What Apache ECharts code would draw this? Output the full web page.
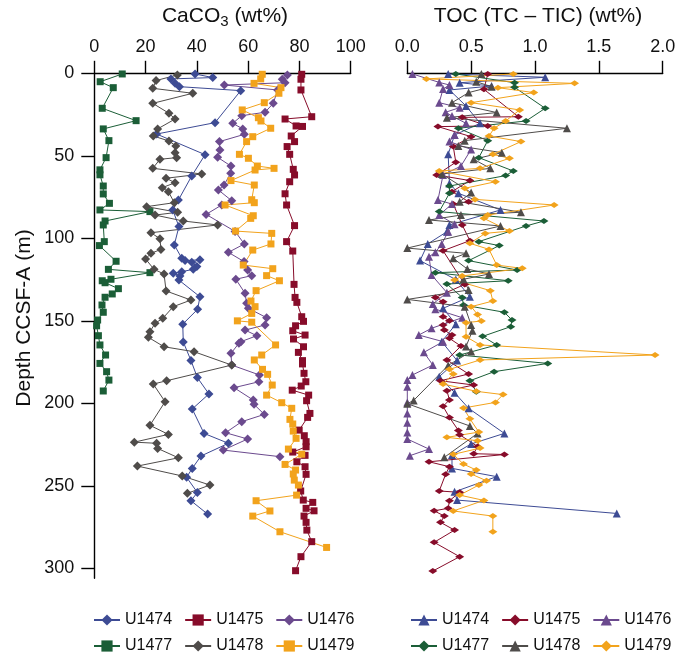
<!DOCTYPE html>
<html><head><meta charset="utf-8">
<script src="https://cdn.jsdelivr.net/npm/echarts@6/dist/echarts.min.js"></script>
<style>html,body{margin:0;padding:0;background:#fff}#c{width:692px;height:655px}</style>
</head><body><div id="c"></div>
<script>
// ---------- DATA: [value, depth (m)] ----------
const sites = ['U1474','U1475','U1476','U1477','U1478','U1479'];
const caTicks = [0,20,40,60,80,100];
const tocTicks = [0,0.5,1.0,1.5,2.0];
const depthTicks = [0,50,100,150,200,250,300];

const ca_U1474 = [[39.3,0.4],[46.2,2.6],[29.9,3.4],[31.5,6.1],[33.2,8.1],[57.1,10.5],[47.1,29.9],[24.3,36.8],[43.2,49.3],[38.0,62.2],[32.8,76.8],[30.6,82.8],[33.0,92.9],[31.2,104],[34.1,112],[35.4,113.5],[41.2,113],[38,114.5],[40,117],[38.6,118.8],[34.1,120.2],[30.8,121.2],[33.4,122.8],[33,125.3],[41.2,135.4],[40.3,143],[34.5,152],[34.7,162.8],[37.7,174],[40.2,184.4],[44.7,194.3],[38.2,203.4],[42.8,218.2],[52.3,224.2],[41.6,231.9],[38.2,239.4],[36.0,244.8],[40.2,254],[37.7,259],[44.2,267.1]];
const ca_U1475 = [[80.9,0.6],[80.6,3.6],[80.6,10.1],[84.8,26.3],[74.4,27.7],[78.7,31.9],[81.2,32.2],[76.8,38],[78.1,41.4],[75.2,44.4],[76.2,49.1],[77.6,58.2],[78.1,61.6],[76.2,65.7],[74.4,73],[75,79.8],[78.1,92.3],[75,102],[77.4,107.7],[77.9,127.9],[78.3,135.8],[79,138.8],[80.9,147.5],[81.6,150.3],[78.5,153],[77.4,156],[82.2,158.6],[77.7,161],[81.6,165.7],[79.6,169.1],[81.2,174.1],[81.2,176.1],[81.8,181.8],[82.5,186.9],[80.7,189.5],[77.2,192],[83.6,195],[82.8,198.4],[84.1,206.1],[83.2,208.5],[79.9,216.2],[81.9,219.6],[82.6,223.2],[82.6,226.3],[77.4,229.5],[82.2,231.5],[79,235.4],[82.2,238.4],[82.6,243],[80.5,253.1],[81.5,258.6],[85.2,260],[82.6,263.6],[85.7,265.1],[81.8,268.3],[82.6,272.1],[82.9,276.8],[84.8,283.8],[80.6,292.9],[78.5,301.4]];
const ca_U1476 = [[75.3,1],[73.3,3.6],[74.4,5.7],[50.7,7.1],[71.5,10.1],[69.8,18.2],[66.6,23.6],[57.5,25.7],[54,30.3],[57.9,33.7],[58.5,37],[48.8,41.4],[49,46.5],[48.1,50.9],[53.3,56.2],[53.2,60.6],[50.6,67.7],[48.4,70.7],[53.6,77.2],[49.7,79.8],[43.6,85.5],[54.9,95.8],[58.5,103.4],[52.3,108.5],[58.4,114.1],[59.8,119.2],[61.4,122.6],[55.2,124.8],[58.8,133.3],[59.4,139.4],[60.1,142.4],[67.2,148.1],[66.6,152.5],[58.8,155.6],[63.4,159],[57.2,162.6],[56.4,163.6],[53.3,169.7],[53.6,176.8],[64.4,182.8],[64.2,186.9],[54.5,190.5],[62,198],[62.3,200.6],[66.3,206.7],[57.5,211.1],[51.2,217.8],[59.8,221.6],[50.3,228.3],[72.4,232.3]];
const ca_U1477 = [[10.9,0.4],[2.3,5.1],[7.4,8.7],[3.1,21.2],[16.3,28.7],[3.5,33.7],[5.7,40.8],[4.6,51.1],[2.2,58.5],[2.2,61.5],[3.5,68.3],[3.5,73.1],[5.9,78.8],[2.2,82.8],[21.7,83.8],[4.2,89.5],[3.5,91.9],[3.9,102],[2.0,104.4],[8.5,113.9],[5.5,118.8],[21.7,120.8],[6.5,124.8],[3.1,125.7],[4.2,126.9],[9.4,130.5],[7.0,133.7],[4.2,135.7],[3.0,140.4],[3.5,144.8],[1.3,149.5],[0.9,153],[1.6,159],[2.2,164.6],[4.4,170.7],[2.2,175.8],[4.8,180.8],[5.7,185.9],[3.5,192.5]];
const ca_U1478 = [[32.4,1],[24.1,4.4],[22.8,9.1],[38.4,12.1],[22.8,18.2],[29.1,24.2],[31.5,27.7],[24.7,33.7],[23,38],[29.1,41],[31.8,44],[31.5,48.1],[32.1,51.1],[25.6,52.1],[22.8,57.6],[41.9,61],[28,63.6],[31.5,66.3],[26.5,69.3],[28.9,71.7],[31.2,78.4],[20.4,80.8],[32.5,84.2],[23.7,85.9],[34.7,89.5],[48.1,91.9],[22.1,96.6],[25.6,100.2],[26,106.7],[22.1,109.1],[20,112.5],[23.3,118.8],[27.2,121.6],[28,131.9],[37.7,137.4],[30.8,141.4],[26.7,148.5],[23.7,151.5],[21.7,156.6],[21.1,160],[27.2,165.7],[38.9,168.7],[53.6,176.8],[28.2,186.3],[23,188.3],[27.6,199],[21.7,213.3],[28.9,218.8],[15.6,223.5],[24.3,224.2],[24.7,227.3],[32.8,233],[16.8,238],[34.3,244],[45.1,249.5],[36.3,254.5]];
const ca_U1479 = [[65.5,0.6],[64.9,3.4],[62.3,6.1],[72.8,8.7],[72,12.1],[66.3,17.8],[57.7,22.2],[64,26.9],[65,28.9],[68.8,33.3],[61.8,38.4],[59.4,41.4],[56.6,49.1],[60.1,51.5],[63.6,56.2],[70.1,57.6],[62.7,58.6],[53.3,65],[62.4,67.7],[61.4,76.6],[62.4,78.4],[51,79.8],[62,86.3],[61,87.9],[55.1,95.6],[69.2,97],[68.9,103.4],[61.8,107.1],[58.1,116.2],[69.6,118.4],[67.2,122.6],[72.2,125.7],[63.1,131.7],[61.1,138],[62.7,141.4],[61.4,145.5],[55.8,150],[61.4,150.8],[70.7,164.6],[65.3,170.7],[62.4,173.7],[65.6,179.4],[67.6,182.4],[69.4,188.9],[67.2,195],[73.1,199.6],[77,203],[76.3,209.7],[77.4,212.5],[77.6,216.8],[78.7,221.2],[75.7,227.7],[80.9,230.8],[74.4,237],[78.5,240.4],[77.6,242.8],[78,246.5],[79.6,249.5],[78.9,255.6],[63.1,259],[68.5,265.2],[61.8,268.3],[72.4,277.8],[90.6,287.3]];

const toc_U1474 = [[0.32,0.4],[1.08,2.4],[0.41,5.7],[0.66,7.7],[0.33,10.1],[0.46,19.8],[0.57,30.3],[0.37,37.4],[0.32,49.1],[0.33,66.7],[0.40,72.7],[0.73,82.8],[0.33,91.9],[0.31,96],[0.16,103.4],[0.10,113.5],[0.38,125],[0.49,135.4],[0.28,142.4],[0.38,152],[0.27,162.6],[0.39,174.1],[0.25,183.8],[0.37,193.5],[0.48,203],[0.76,218.2],[0.50,224.6],[0.35,231.3],[0.35,239.4],[0.70,244.4],[0.37,253.6],[0.39,258.6],[1.64,266.7]];
const toc_U1475 = [[0.63,0.4],[0.60,9.7],[0.87,26.3],[0.43,26.7],[0.63,31.9],[0.24,32.3],[0.50,38.4],[0.36,44.4],[0.38,53.9],[0.23,61.6],[0.49,65],[0.35,71.7],[0.48,77.8],[0.36,79.2],[0.43,91.9],[0.49,101.4],[0.28,107.5],[0.45,127.9],[0.22,135.8],[0.28,138.4],[0.28,147.5],[0.33,150],[0.28,152.5],[0.29,155.6],[0.35,158.6],[0.33,160.6],[0.42,165.3],[0.31,173.7],[0.48,182.2],[0.26,186.3],[0.52,188.9],[0.31,192.3],[0.33,197.9],[0.28,201.8],[0.33,208.5],[0.40,216.4],[0.41,219],[0.55,226.1],[0.52,230.5],[0.76,231],[0.17,235.4],[0.33,238.4],[0.30,243],[0.25,253.1],[0.41,253.9],[0.33,259],[0.32,263.6],[0.21,265.1],[0.29,268.3],[0.26,272.1],[0.37,276.8],[0.21,284.2],[0.41,292.9],[0.20,301.6]];
const toc_U1476 = [[0.04,0.4],[0.25,5.5],[0.33,7.1],[0.28,9.5],[0.25,17.8],[0.41,20.8],[0.30,23.6],[0.35,25.9],[0.46,30.3],[0.37,37.4],[0.33,41.4],[0.50,46.1],[0.42,56.2],[0.28,61.6],[0.24,76.8],[0.35,79.2],[0.25,85.9],[0.37,91.5],[0.32,96],[0.27,103.4],[0.22,108.5],[0.17,111.1],[0.19,122.2],[0.31,132.9],[0.20,139.8],[0.22,142.9],[0.43,148.1],[0.19,154.5],[0.09,158.6],[0.28,162.6],[0.13,169.1],[0.20,176.8],[0.04,182.8],[0.00,185.9],[0.00,189.9],[0.00,199.4],[0.00,206.1],[0.00,211.7],[0.00,217.6],[0.00,221.6],[0.17,227.7],[0.02,231.7]];
const toc_U1477 = [[0.38,0.4],[0.84,5.7],[0.84,8.5],[1.08,21.2],[0.93,28.9],[0.40,33.3],[0.63,40.8],[0.56,51.1],[0.83,59.2],[0.77,62],[0.33,68.3],[0.33,72.7],[0.25,83.8],[1.07,89.5],[0.93,92.5],[0.56,102],[0.72,104.4],[0.48,113.5],[0.86,119.2],[0.22,120.8],[0.79,125.7],[0.31,127.7],[0.43,135.8],[0.44,140.4],[0.76,144.8],[0.82,149.5],[0.81,153.5],[0.59,159.4],[0.70,164.6],[0.41,170.7],[1.10,175.8],[0.68,180.8],[0.49,186.3],[0.54,192.9]];
const toc_U1478 = [[0.58,0.4],[0.54,5.1],[0.66,8.1],[0.48,11.7],[0.35,17.8],[0.70,23.8],[0.31,26.9],[1.25,33.3],[0.45,40.8],[0.40,44],[0.74,48.1],[0.52,52.1],[0.65,57.6],[0.27,61],[0.50,72.3],[0.41,77.8],[0.89,84.2],[0.42,85.9],[0.17,88.9],[0.73,92.5],[0.00,105.9],[0.46,109.1],[0.36,112.1],[0.47,118.6],[0.64,121.6],[0.44,124.8],[0.48,131.3],[0.00,137],[0.45,141.4],[0.50,152.5],[0.51,156],[0.46,165.5],[0.50,168.5],[0.32,177],[0.05,198.2],[0.00,200.2],[0.49,213.7],[0.55,218.2],[0.29,232.7]];
const toc_U1479 = [[0.83,0.4],[0.15,3.4],[1.31,6.1],[0.71,8.7],[0.99,11.7],[0.50,17.8],[0.88,22.2],[0.77,28.9],[0.68,33.3],[0.64,38],[0.89,41.4],[0.67,49.1],[0.80,51.5],[0.57,57.6],[0.25,59.2],[0.69,65.7],[0.45,69.7],[0.53,76.4],[1.15,79.8],[0.63,85.9],[0.60,87.9],[0.80,95.6],[0.61,97],[0.49,103],[0.64,106.7],[0.70,116.2],[0.90,118.2],[0.43,122.8],[0.37,125.3],[0.65,131.7],[0.67,138],[0.50,141.4],[0.55,146.1],[0.58,150.1],[0.46,151.1],[0.46,159.6],[0.57,164.6],[1.94,170.7],[0.57,173.7],[0.33,179.4],[0.36,182.2],[0.28,188.3],[0.54,192.7],[0.75,194.7],[0.69,199.4],[0.44,202.8],[0.49,209.3],[0.56,217.4],[0.31,220.6],[0.55,222.6],[0.57,227.1],[0.36,230.9],[0.44,236.8],[0.54,240.4],[0.50,242.8],[0.62,246.9],[0.56,249.5],[0.41,255.6],[0.60,258.8],[0.36,265.2],[0.67,268.3],[0.67,277.8]];

// ---------- STYLE ----------
const colors = {U1474:'#3d4b94',U1475:'#870c2a',U1476:'#6b4a8e',U1477:'#1b5e37',U1478:'#4f4c4a',U1479:'#f2a31c'};
const caSym = {U1474:['diamond',9],U1475:['rect',7],U1476:['diamond',9],U1477:['rect',7],U1478:['diamond',9],U1479:['rect',7]};
const tocSym = {U1474:['triangle',8],U1475:['diamond',[9,6]],U1476:['triangle',8],U1477:['diamond',[9,6]],U1478:['triangle',8],U1479:['diamond',[9,6]]};
const caData = {U1474:ca_U1474,U1475:ca_U1475,U1476:ca_U1476,U1477:ca_U1477,U1478:ca_U1478,U1479:ca_U1479};
const tocData = {U1474:toc_U1474,U1475:toc_U1475,U1476:toc_U1476,U1477:toc_U1477,U1478:toc_U1478,U1479:toc_U1479};
const FONT = 'Liberation Sans, Arial, sans-serif';

const series = [];
sites.forEach(s => {
  series.push({name:s, type:'line', xAxisIndex:0, yAxisIndex:0, data:caData[s],
    symbol:caSym[s][0], symbolSize:caSym[s][1], showAllSymbol:true,
    lineStyle:{width:1, color:colors[s]}, itemStyle:{color:colors[s]}});
});
sites.forEach(s => {
  series.push({name:s+' ', type:'line', xAxisIndex:1, yAxisIndex:1, data:tocData[s],
    symbol:tocSym[s][0], symbolSize:tocSym[s][1], showAllSymbol:true,
    lineStyle:{width:1, color:colors[s]}, itemStyle:{color:colors[s]}});
});

const lineSty = {color:'#000', width:1.4};
const labelSty = {fontSize:18, fontFamily:FONT, color:'#111'};
const legendBase = {itemWidth:26, itemHeight:14, itemGap:12,
  textStyle:{fontSize:16, fontFamily:FONT, color:'#111'}, formatter:n=>n.trim(), selectedMode:false};

const chart = echarts.init(document.getElementById('c'));
chart.setOption({
  animation:false,
  backgroundColor:'#fff',
  grid:[
    {left:94.3, top:73.3, width:256.4, height:505},
    {left:407.3, top:73.3, width:255.4, height:505}
  ],
  xAxis:[
    {gridIndex:0, type:'value', position:'top', min:0, max:100, interval:20,
      axisLine:{show:true, lineStyle:lineSty}, splitLine:{show:false},
      axisTick:{show:true, inside:false, length:12.5, lineStyle:lineSty, customValues:caTicks},
      axisLabel:Object.assign({margin:17, customValues:caTicks}, labelSty)},
    {gridIndex:1, type:'value', position:'top', min:0, max:2, interval:0.5,
      axisLine:{show:true, lineStyle:lineSty}, splitLine:{show:false},
      axisTick:{show:true, inside:false, length:12.5, lineStyle:lineSty, customValues:tocTicks},
      axisLabel:Object.assign({margin:17, customValues:tocTicks, formatter:v=>v.toFixed(1)}, labelSty)}
  ],
  yAxis:[
    {gridIndex:0, type:'value', inverse:true, min:0, max:306, position:'left',
      axisLine:{show:true, lineStyle:lineSty}, splitLine:{show:false},
      axisTick:{show:true, inside:false, length:13, lineStyle:lineSty, customValues:depthTicks},
      axisLabel:Object.assign({margin:20, customValues:depthTicks}, labelSty)},
    {gridIndex:1, type:'value', inverse:true, min:0, max:306, show:false}
  ],
  legend:[
    Object.assign({}, legendBase, {data:['U1474','U1475','U1476'], left:88, top:607}),
    Object.assign({}, legendBase, {data:['U1477','U1478','U1479'], left:88, top:633}),
    Object.assign({}, legendBase, {data:['U1474 ','U1475 ','U1476 '], left:405, top:607}),
    Object.assign({}, legendBase, {data:['U1477 ','U1478 ','U1479 '], left:405, top:633})
  ],
  graphic:[
    {type:'text', x:225, y:16, style:{text:'{a|CaCO}{s|3}{a| (wt%)}', textAlign:'center', textVerticalAlign:'middle', align:'center', verticalAlign:'middle',
      rich:{a:{fontSize:21, fontFamily:FONT, fill:'#111'}, s:{fontSize:15, fontFamily:FONT, fill:'#111', padding:[12,0,0,0]}}}},
    {type:'text', x:538, y:16, style:{text:'TOC (TC – TIC) (wt%)', fontSize:21, fontFamily:FONT, fill:'#111', textAlign:'center', textVerticalAlign:'middle', align:'center', verticalAlign:'middle'}},
    {type:'text', x:24, y:318, rotation:Math.PI/2, style:{text:'Depth CCSF-A (m)', fontSize:21, fontFamily:FONT, fill:'#111', textAlign:'center', textVerticalAlign:'middle', align:'center', verticalAlign:'middle'}}
  ],
  series:series
});
</script></body></html>
